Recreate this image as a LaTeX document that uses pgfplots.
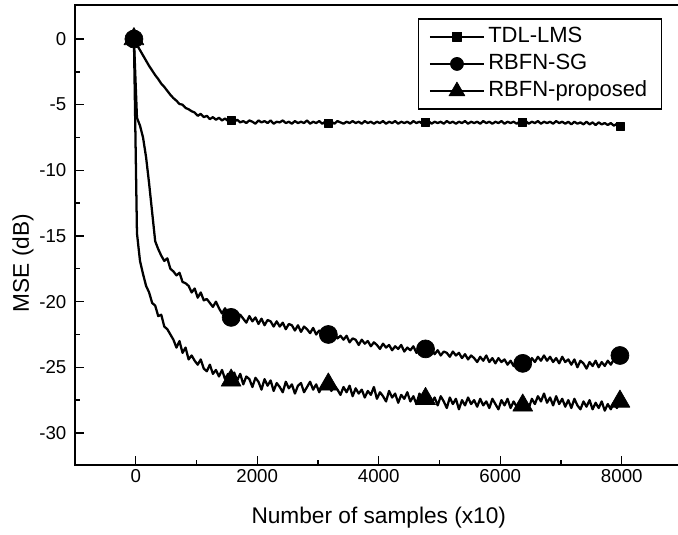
\documentclass[border=0pt]{standalone}
\usepackage{pgfplots}
\pgfplotsset{compat=1.18}
\usepackage{pgfplotstable}
\usepackage{fontspec}
\setmainfont{Liberation Sans}

\pgfplotstableread{
x tdl sg prop
-30 0 0 0
20 -0.45 -6.0 -14.8
70 -0.85 -6.6 -16.9
120 -1.25 -7.5 -17.9
170 -1.65 -9.0 -18.8
220 -2.05 -11.0 -19.3
270 -2.4 -13.2 -20.1
320 -2.75 -15.4 -20.3
370 -3.05 -16.0 -21.1
420 -3.4 -16.5 -21.0
470 -3.65 -16.9 -21.9
520 -3.95 -16.7 -22.1
570 -4.25 -17.5 -22.5
620 -4.5 -17.7 -22.9
670 -4.7 -18.0 -23.5
720 -4.95 -17.8 -23.0
770 -5.0 -18.5 -23.9
820 -5.25 -18.6 -23.5
870 -5.35 -18.8 -24.4
920 -5.5 -19.3 -24.1
970 -5.6 -19.0 -24.5
1020 -5.85 -19.7 -24.8
1070 -5.7 -19.3 -24.4
1120 -5.95 -19.9 -25.1
1170 -5.85 -19.8 -25.3
1220 -6.1 -20.1 -24.8
1270 -5.95 -20.4 -25.5
1320 -6.15 -20.0 -25.2
1370 -6.0 -20.5 -25.7
1420 -6.2 -20.9 -25.2
1470 -6.05 -20.5 -25.9
1520 -6.25 -21.0 -25.5
1570 -6.2 -21.2 -26.0
1620 -6.3 -20.8 -25.4
1670 -6.15 -21.4 -26.0
1720 -6.35 -21.0 -25.5
1770 -6.25 -21.3 -26.3
1820 -6.4 -21.6 -25.7
1870 -6.2 -21.1 -25.9
1920 -6.3 -21.5 -26.5
1970 -6.45 -21.2 -25.8
2020 -6.2 -21.7 -26.1
2070 -6.35 -21.3 -26.7
2120 -6.25 -21.8 -25.9
2170 -6.4 -21.4 -26.4
2220 -6.2 -21.5 -26.0
2270 -6.45 -21.9 -26.8
2320 -6.3 -21.5 -26.2
2370 -6.35 -21.9 -26.5
2420 -6.2 -21.6 -26.9
2470 -6.4 -22.1 -26.1
2520 -6.3 -21.7 -26.6
2570 -6.45 -21.8 -26.3
2620 -6.25 -22.2 -27.0
2670 -6.4 -21.8 -26.4
2720 -6.3 -22.3 -26.2
2770 -6.4 -21.9 -26.9
2820 -6.2 -22.1 -26.5
2870 -6.45 -22.4 -26.1
2920 -6.3 -22.0 -26.7
2970 -6.4 -22.5 -26.3
3020 -6.25 -22.2 -26.9
3070 -6.45 -22.3 -26.4
3120 -6.3 -22.7 -26.6
3170 -6.4 -22.5 -26.3
3220 -6.3 -22.6 -26.8
3270 -6.45 -22.3 -26.4
3320 -6.25 -22.8 -26.7
3370 -6.35 -22.6 -27.1
3420 -6.45 -22.9 -26.5
3470 -6.3 -22.6 -26.9
3520 -6.4 -23.1 -26.4
3570 -6.25 -22.8 -27.2
3620 -6.4 -22.9 -26.6
3670 -6.3 -23.3 -27.0
3720 -6.45 -22.9 -26.7
3770 -6.25 -23.2 -27.3
3820 -6.4 -23.0 -26.8
3870 -6.3 -23.4 -27.1
3920 -6.45 -23.1 -26.5
3970 -6.3 -23.3 -27.4
4020 -6.4 -23.6 -26.9
4070 -6.25 -23.2 -27.2
4120 -6.45 -23.5 -27.6
4170 -6.3 -23.3 -26.8
4220 -6.4 -23.7 -27.3
4270 -6.25 -23.4 -27.0
4320 -6.45 -23.6 -27.7
4370 -6.3 -23.3 -27.1
4420 -6.4 -23.8 -27.4
4470 -6.3 -23.5 -26.9
4520 -6.45 -23.7 -27.6
4570 -6.25 -23.4 -27.2
4620 -6.4 -23.9 -27.8
4670 -6.3 -23.5 -27.0
4720 -6.45 -23.8 -27.5
4770 -6.35 -23.6 -27.4
4820 -6.25 -23.9 -27.1
4870 -6.45 -23.6 -27.7
4920 -6.3 -24.0 -27.3
4970 -6.4 -23.7 -27.9
5020 -6.3 -24.1 -27.2
5070 -6.45 -23.8 -27.6
5120 -6.25 -23.9 -28.1
5170 -6.4 -24.2 -27.3
5220 -6.3 -23.8 -27.8
5270 -6.45 -24.1 -27.4
5320 -6.3 -23.9 -28.2
5370 -6.4 -24.3 -27.5
5420 -6.25 -24.0 -27.9
5470 -6.45 -24.4 -27.3
5520 -6.3 -24.1 -27.8
5570 -6.4 -24.3 -27.5
5620 -6.3 -24.6 -28.0
5670 -6.45 -24.2 -27.4
5720 -6.25 -24.5 -27.9
5770 -6.4 -24.1 -27.6
5820 -6.3 -24.6 -28.1
5870 -6.45 -24.3 -27.4
5920 -6.3 -24.7 -27.8
5970 -6.4 -24.3 -28.2
6020 -6.25 -24.6 -27.5
6070 -6.45 -24.4 -27.9
6120 -6.3 -24.8 -27.4
6170 -6.4 -24.5 -28.1
6220 -6.3 -24.9 -27.6
6270 -6.45 -24.5 -28.0
6320 -6.3 -24.8 -27.6
6370 -6.35 -24.7 -27.9
6420 -6.25 -24.5 -27.6
6470 -6.45 -24.8 -28.1
6520 -6.3 -24.3 -27.4
6570 -6.4 -24.6 -27.8
6620 -6.25 -24.2 -27.2
6670 -6.45 -24.5 -27.6
6720 -6.3 -24.1 -27.0
6770 -6.4 -24.5 -27.7
6820 -6.3 -24.2 -27.3
6870 -6.45 -24.6 -27.9
6920 -6.25 -24.3 -27.2
6970 -6.4 -24.7 -27.8
7020 -6.3 -24.2 -27.4
7070 -6.45 -24.6 -28.0
7120 -6.3 -24.4 -27.5
7170 -6.5 -24.8 -28.1
7220 -6.3 -24.4 -27.4
7270 -6.45 -25.0 -27.9
7320 -6.35 -24.5 -28.2
7370 -6.5 -24.7 -27.6
7420 -6.3 -25.1 -28.0
7470 -6.5 -24.6 -27.5
7520 -6.35 -24.9 -28.2
7570 -6.55 -24.5 -27.7
7620 -6.35 -25.0 -28.1
7670 -6.5 -24.6 -27.6
7720 -6.4 -24.9 -28.3
7770 -6.55 -24.5 -27.8
7820 -6.4 -24.8 -28.2
7870 -6.6 -24.4 -27.7
7920 -6.45 -24.6 -28.1
7970 -6.65 -24.1 -27.6
}\mse

\begin{document}
\begin{tikzpicture}
\begin{axis}[
  at={(0,0)}, anchor=south west,
  scale only axis, width=455.625pt, height=345pt,
  xmin=-1000, xmax=9000, ymin=-32.44, ymax=2.59,
  xtick={0,2000,4000,6000,8000},
  minor xtick={-1000,1000,3000,5000,7000},
  ytick={-30,-25,-20,-15,-10,-5,0},
  minor ytick={-27.5,-22.5,-17.5,-12.5,-7.5,-2.5},
  tick pos=left, tick align=inside,
  major tick length=6.75pt, minor tick length=3.5pt,
  axis line style={line width=1.2pt},
  every tick/.style={line width=1.0pt, black},
  /pgf/number format/assume math mode=true,
  /pgf/number format/1000 sep={},
  scaled x ticks=false,
  ticklabel style={font=\fontsize{14}{16}\selectfont},
  yticklabel style={xshift=-3pt},
  xlabel={Number of samples (x10)},
  ylabel={MSE (dB)},
  label style={font=\fontsize{17}{20}\selectfont},
  xlabel style={at={(axis description cs:0.5,-0.1152)}, anchor=center},
  ylabel style={at={(axis description cs:-0.0856,0.439)}, anchor=center},
  legend cell align=left,
  legend style={at={(axis description cs:0.966,0.971)}, anchor=north east,
    draw=black, line width=0.9pt, font=\fontsize{16.5}{19}\selectfont,
    inner xsep=8pt, inner ysep=3pt, row sep=0pt,
    nodes={text height=12pt, text depth=3.5pt, inner sep=2.5pt}},
  legend image code/.code={\draw[#1, mark repeat=2, mark phase=2] plot coordinates {(0pt,0pt) (20.25pt,0pt) (40.5pt,0pt)};},
  every axis plot/.append style={black, line width=1.7pt, line join=round, mark repeat=32, mark phase=1},
]
\addplot[forget plot, mark=square*, mark size=3pt, mark options={solid, fill=black, line width=0.5pt}] table[x=x, y=tdl] {\mse};
\addplot[forget plot, mark=*, mark size=6.75pt, mark options={solid, fill=black, line width=0.5pt}] table[x=x, y=sg] {\mse};
\addplot[forget plot, mark=triangle*, mark size=8.6pt, mark options={solid, fill=black, line width=0.5pt}] table[x=x, y=prop] {\mse};
\addlegendimage{black, line width=1.5pt, mark=square*, mark size=3.4pt, mark options={solid, fill=black, line width=0.5pt}}
\addlegendentry{TDL-LMS}
\addlegendimage{black, line width=1.5pt, mark=*, mark size=4.9pt, mark options={solid, fill=black, line width=0.5pt}}
\addlegendentry{RBFN-SG}
\addlegendimage{black, line width=1.5pt, mark=triangle*, mark size=6.9pt, mark options={solid, fill=black, line width=0.5pt}}
\addlegendentry{RBFN-proposed}
\end{axis}
\pgfresetboundingbox
\path (-56.25pt,-52.5pt) rectangle (452.25pt,348.75pt);
\end{tikzpicture}
\end{document}
